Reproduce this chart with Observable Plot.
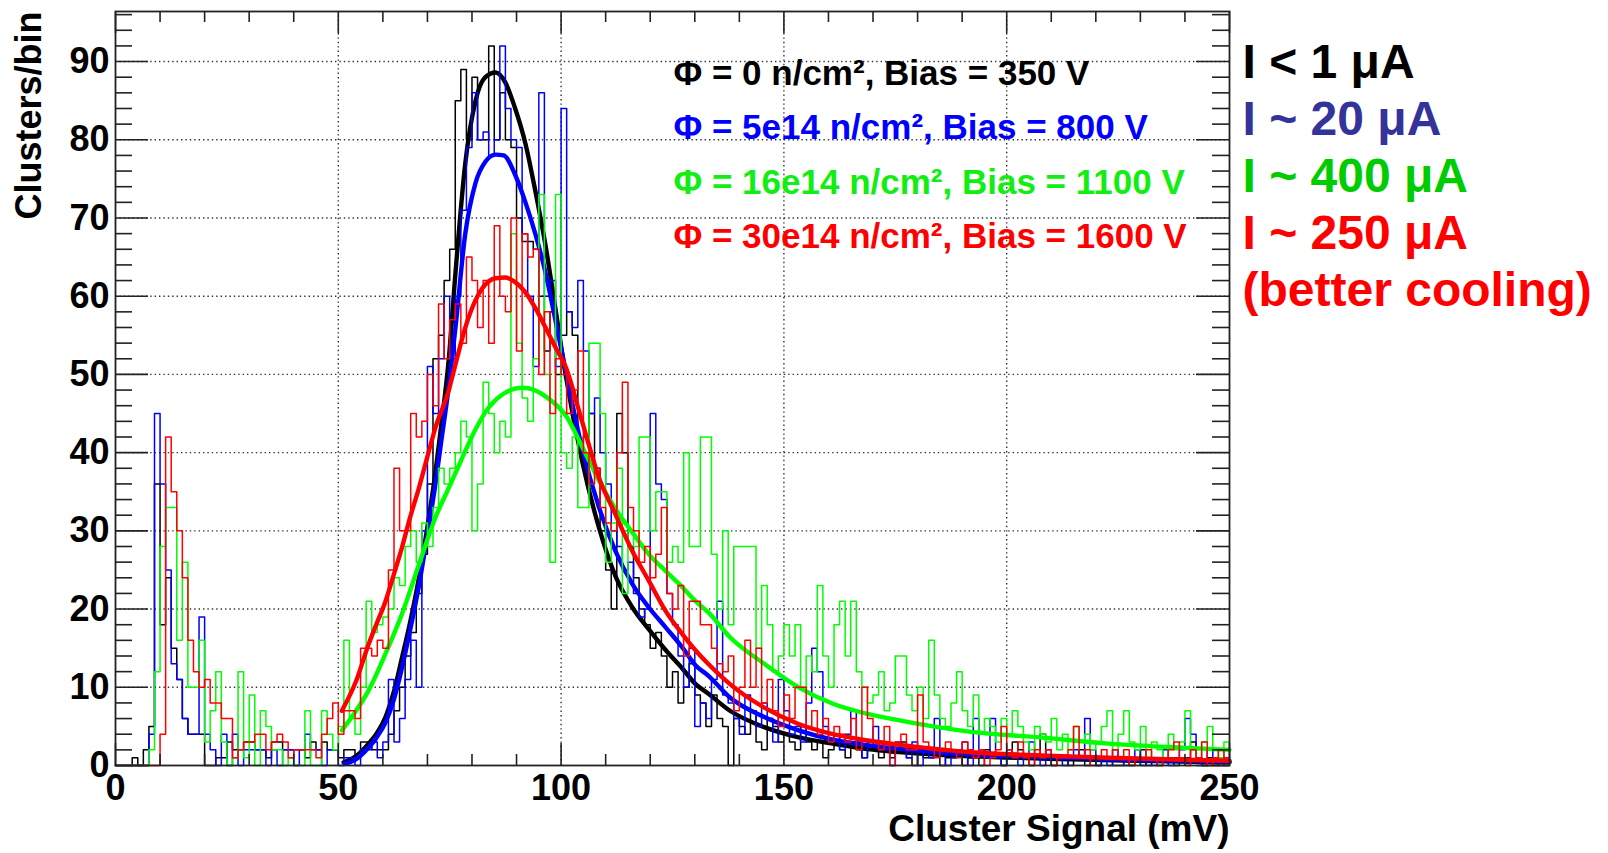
<!DOCTYPE html>
<html>
<head>
<meta charset="utf-8">
<script src="https://cdn.jsdelivr.net/npm/d3@7"></script>
<script src="https://cdn.jsdelivr.net/npm/@observablehq/plot@0.6"></script>
<style>
  html, body { margin: 0; padding: 0; background: #fff; }
</style>
</head>
<body>
<div id="chart"></div>
<script>
// ---------------- data ----------------
const binWidth = 1.25; // mV per histogram bin, bins start at 0 mV

const histBlack = [
  0,0,0,1,0,2,5,36,18,24,
  15,11,6,4,4,4,0,0,1,1,
  3,2,2,3,3,2,2,1,3,3,
  2,2,2,2,1,3,2,3,2,2,
  1,2,2,1,3,3,2,2,2,4,
  7,10,14,17,22,27,36,52,55,62,
  66,85,89,80,88,80,80,92,80,86,
  80,79,70,67,67,66,60,53,58,50,
  55,58,55,40,42,45,38,30,25,20,
  45,40,28,24,20,18,15,17,14,10,
  12,8,10,13,9,8,5,9,6,5,
  0,6,5,4,7,3,2,6,5,3,
  4,3,2,5,3,2,3,1,2,4,
  2,1,3,2,1,2,3,1,2,1,
  2,3,1,0,2,1,1,2,0,1,
  1,2,0,1,1,0,2,1,1,0,
  1,3,2,1,0,1,4,1,0,1,
  1,0,1,2,0,1,0,1,1,0,
  0,1,0,1,2,0,1,0,1,1,
  0,1,1,3,1,0,1,0,1,0
];
const histBlue = [
  0,0,0,0,0,0,4,45,36,25,
  13,11,6,4,4,19,4,2,0,4,
  0,4,0,2,2,2,2,0,2,0,
  2,2,0,2,4,2,2,0,2,2,
  0,1,1,0,2,2,3,1,3,11,
  3,6,11,16,10,30,51,45,52,60,
  52,60,71,79,86,80,81,78,80,92,
  84,80,79,68,60,51,86,60,62,51,
  84,58,56,62,53,45,47,40,36,30,
  28,25,26,22,19,20,45,36,34,22,
  18,14,10,15,5,8,6,11,21,9,
  8,6,4,9,7,5,8,6,3,11,
  7,4,5,3,8,15,12,5,3,4,
  2,4,7,3,1,3,5,2,2,0,
  3,2,1,3,0,2,1,6,2,0,
  1,2,3,0,6,2,1,6,1,0,
  2,1,0,1,3,1,0,2,1,1,
  0,1,2,1,6,2,0,1,0,2,
  1,0,1,2,0,1,0,1,2,0,
  1,2,6,4,1,0,2,1,0,1
];
const histGreen = [
  0,0,0,0,0,0,2,12,28,33,
  33,16,26,10,10,16,3,7,12,3,
  0,1,12,1,9,0,7,5,2,2,
  0,1,0,0,7,0,0,7,4,2,
  5,16,6,4,10,21,17,18,19,20,
  24,23,28,30,26,31,28,33,38,36,
  38,40,44,42,30,36,49,45,40,44,
  42,68,54,47,44,52,73,50,26,73,
  40,38,42,33,33,54,54,45,26,31,
  38,22,30,28,42,42,30,35,35,26,
  28,26,40,28,28,42,42,27,20,30,
  18,28,28,28,28,15,23,18,12,14,
  18,14,18,10,14,12,23,14,10,18,
  21,14,21,12,10,8,9,12,7,8,
  14,14,9,7,10,6,16,9,6,5,
  8,12,7,5,9,4,6,5,3,6,
  4,7,5,3,2,5,4,3,6,2,
  4,2,5,3,4,2,3,5,7,2,
  4,7,3,2,5,1,3,2,1,4,
  2,3,7,2,1,3,5,2,1,3
];
const histRed = [
  0,0,0,0,0,0,0,0,4,42,
  35,30,24,16,12,10,11,8,8,6,
  6,1,2,3,3,4,4,2,3,4,
  3,1,2,2,2,2,1,4,6,8,
  4,7,7,6,15,15,14,16,15,25,
  38,30,30,45,42,44,50,46,59,52,
  57,59,54,65,62,56,62,54,69,60,
  58,70,53,68,65,66,50,58,45,52,
  50,45,48,53,40,36,38,33,31,30,
  40,49,33,30,26,28,24,27,33,22,
  20,23,14,21,21,18,18,15,13,12,
  14,7,10,16,10,15,8,11,7,5,
  9,6,10,10,5,7,4,6,3,5,
  4,3,6,2,10,6,3,2,5,0,
  3,4,2,2,9,3,2,1,2,3,
  2,1,3,2,1,2,0,1,2,5,
  2,1,3,1,0,2,1,2,0,1,
  1,2,5,1,2,0,1,2,1,2,
  1,2,0,1,1,2,1,0,1,2,
  3,1,0,2,1,3,0,1,2,1
];

// fitted curves, [signal mV, clusters/bin]
const fitBlack = [[51.2,0.4],[54,1.2],[56.8,2.8],[58.5,4],[60.6,6.2],[62.5,9.5],[64.3,13.8],[66,18],[68.1,24],[70,30.5],[71.8,37.5],[73,43],[74.8,52],[76.3,63],[78.5,77],[80.8,85],[83,88],[85.3,88.6],[87.5,87.3],[89.7,84],[92,79.5],[94.2,73.5],[96.5,66.5],[98.7,58.5],[101,50],[104.7,39],[108.5,30.4],[112.2,24.2],[116,20.2],[119.7,17.4],[123.4,14.8],[127.2,12.4],[130.2,10.4],[133,9.2],[137.9,7],[145.6,4.9],[153.3,3.6],[161,2.8],[168.8,2.1],[184.2,1.4],[207.4,0.9],[230,0.6],[250,0.4]];
const fitBlue = [[51.5,0.2],[54,0.8],[56.8,2.3],[58.5,3.5],[60.6,5.5],[62.5,8.5],[64.3,12.5],[66,17],[68.1,23],[70,29.5],[71.8,36],[73,41],[74.8,48.5],[76.3,56],[78.5,68],[80.8,74.5],[83,77.2],[85.3,78.1],[87.1,78],[89.7,75.5],[92,72],[94.2,68],[96.5,63],[98.7,57],[101,50.5],[104.7,40.6],[108.5,33],[112.2,27.4],[116,23.2],[119.7,20.2],[123.4,17.7],[127.2,15.1],[130.2,12.8],[133,11.5],[137.9,8.7],[145.6,6.2],[153.3,4.5],[161,3.3],[168.8,2.6],[184.2,1.7],[207.4,1.1],[230,0.7],[250,0.5]];
const fitGreen = [[50.8,4.5],[54,7],[56.8,9.6],[60.6,14.3],[64.3,19.4],[68.1,25.7],[71.8,31.7],[74.8,35.5],[77.4,38.8],[80.8,43],[83.8,45.8],[87,47.5],[91.3,48.3],[94,48],[96.5,47.2],[98.7,46.2],[101,44.8],[104.7,40.8],[108.5,36.4],[112.2,32.8],[116,29.8],[119.7,27],[123.4,24.9],[127.2,22.8],[130.2,21],[133,19.6],[137.9,16.4],[145.6,13],[153.3,10],[161,7.9],[168.8,6.6],[176.5,5.7],[192,4.3],[207.4,3.6],[222.9,2.8],[238.4,2.3],[250,2.0]];
const fitRed = [[50.8,7],[54,10.8],[56.8,15.5],[58.5,18],[60.6,21],[62.5,24.5],[64.3,27.9],[66,31.5],[68.1,35.5],[70,39.5],[71.8,43.2],[74.8,48],[76.3,51.3],[78.5,56],[80.8,59.5],[83,61.5],[85.3,62.3],[87.5,62.4],[89.7,61.8],[92,60.5],[94.2,58.5],[96.5,56],[98.7,53.5],[101,51],[104.7,44],[108.5,36.8],[112.2,32.1],[116,27.4],[119.7,23.6],[123.4,19.8],[127.2,16.8],[130.2,14.7],[133,13],[137.9,10.4],[145.6,7.4],[153.3,5.3],[161,4],[168.8,3.2],[176.5,2.6],[192,1.7],[207.4,1.3],[222.9,1.0],[250,0.6]];

const legendLabels = [
  "Φ = 0 n/cm², Bias = 350 V",
  "Φ = 5e14 n/cm², Bias = 800 V",
  "Φ = 16e14 n/cm², Bias = 1100 V",
  "Φ = 30e14 n/cm², Bias = 1600 V"
];
const currentLabels = ["I < 1 μA", "I ~ 20 μA", "I ~ 400 μA", "I ~ 250 μA", "(better cooling)"];

const xTicks = [0, 50, 100, 150, 200, 250];
const yTicks = [0, 10, 20, 30, 40, 50, 60, 70, 80, 90];
const xGrid = [50, 100, 150, 200];
const yGrid = [10, 20, 30, 40, 50, 60, 70, 80, 90];
const xMinor = [10,20,30,40,60,70,80,90,110,120,130,140,160,170,180,190,210,220,230,240];
const yMinor = [2,4,6,8,12,14,16,18,22,24,26,28,32,34,36,38,42,44,46,48,52,54,56,58,62,64,66,68,72,74,76,78,82,84,86,88,92,94,96];

// ---------------- styles / layout ----------------
const C = { black: "#000000", blue: "#0000ff", green: "#00ff00", red: "#ff0000" };
const legendColors = [C.black, C.blue, "#11ee11", C.red];
const currentColors = ["#000000", "#333399", "#00cc00", "#ff0000", "#ff0000"];
const FONT = "'Liberation Sans', Arial, Helvetica, sans-serif";
const W = 1608, H = 853;
const mL = 115, mR = 379, mT = 11, mB = 88;
const plotW = W - mL - mR, plotH = H - mT - mB;

function steps(values) {
  const pts = values.map((v, i) => ({x: i * binWidth, y: v}));
  pts.push({x: values.length * binWidth, y: values[values.length - 1]});
  return pts;
}
const histMark = (vals, color) => Plot.line(steps(vals), {x: "x", y: "y", curve: "step-after", stroke: color, strokeWidth: 1.5});
const fitMark = (pts, color) => Plot.line(pts, {x: d => d[0], y: d => d[1], curve: "monotone-x", stroke: color, strokeWidth: 4.4, strokeLinejoin: "round", strokeLinecap: "round"});

const tickStyle = {stroke: "#222", strokeWidth: 1.6};

const chart = Plot.plot({
  width: W, height: H,
  marginLeft: mL, marginRight: mR, marginTop: mT, marginBottom: mB,
  x: {domain: [0, 250]},
  y: {domain: [0, 96.4]},
  style: {fontFamily: FONT, fontWeight: "bold", fontSize: "36px", background: "#fff", overflow: "visible"},
  marks: [
    Plot.ruleX(xGrid, {stroke: "#333", strokeWidth: 1.4, strokeDasharray: "1.4,3"}),
    Plot.ruleY(yGrid, {stroke: "#333", strokeWidth: 1.4, strokeDasharray: "1.4,3"}),
    histMark(histBlack, C.black),
    fitMark(fitBlack, C.black),
    histMark(histBlue, C.blue),
    fitMark(fitBlue, C.blue),
    histMark(histGreen, C.green),
    fitMark(fitGreen, C.green),
    histMark(histRed, C.red),
    fitMark(fitRed, C.red),
    Plot.frame({stroke: "#222", strokeWidth: 1.8}),
    // inward ticks (ROOT style)
    Plot.tickX(xTicks, {...tickStyle, insetTop: plotH - 22}),
    Plot.tickX(xMinor, {...tickStyle, insetTop: plotH - 11}),
    Plot.tickX(xTicks, {...tickStyle, insetBottom: plotH - 22}),
    Plot.tickX(xMinor, {...tickStyle, insetBottom: plotH - 11}),
    Plot.tickY(yTicks, {...tickStyle, insetRight: plotW - 33}),
    Plot.tickY(yMinor, {...tickStyle, insetRight: plotW - 17}),
    Plot.tickY(yTicks, {...tickStyle, insetLeft: plotW - 33}),
    Plot.tickY(yMinor, {...tickStyle, insetLeft: plotW - 17}),
    Plot.axisX({ticks: xTicks, tickSize: 0, tickPadding: 9, tickFormat: d => String(d), label: null, fontSize: 36, fontWeight: "bold", fill: "#000"}),
    Plot.axisY({ticks: yTicks, tickSize: 0, tickPadding: 6, tickFormat: d => String(d), label: null, fontSize: 36, fontWeight: "bold", fill: "#000"}),
    Plot.text(["Clusters/bin"], {text: d => d, frameAnchor: "top-left", rotate: -90, textAnchor: "end", lineAnchor: "middle", dx: -86, dy: 0, fontSize: 36, fontWeight: "bold", fill: "#000"}),
    Plot.text(["Cluster Signal (mV)"], {text: d => d, frameAnchor: "bottom-right", textAnchor: "end", lineAnchor: "middle", dy: 64, fontSize: 37, fontWeight: "bold", fill: "#000"}),
    ...legendLabels.map((s, i) => Plot.text([s], {text: d => d, frameAnchor: "top-left", textAnchor: "start", lineAnchor: "middle", dx: 558, dy: 62 + i * 54.5, fontSize: 35, fontWeight: "bold", fill: legendColors[i]})),
    ...currentLabels.map((s, i) => Plot.text([s], {text: d => d, frameAnchor: "top-right", textAnchor: "start", lineAnchor: "middle", dx: 13, dy: 51 + i * 57, fontSize: 48, fontWeight: "bold", fill: currentColors[i]}))
  ]
});
document.getElementById("chart").appendChild(chart);
</script>
</body>
</html>
